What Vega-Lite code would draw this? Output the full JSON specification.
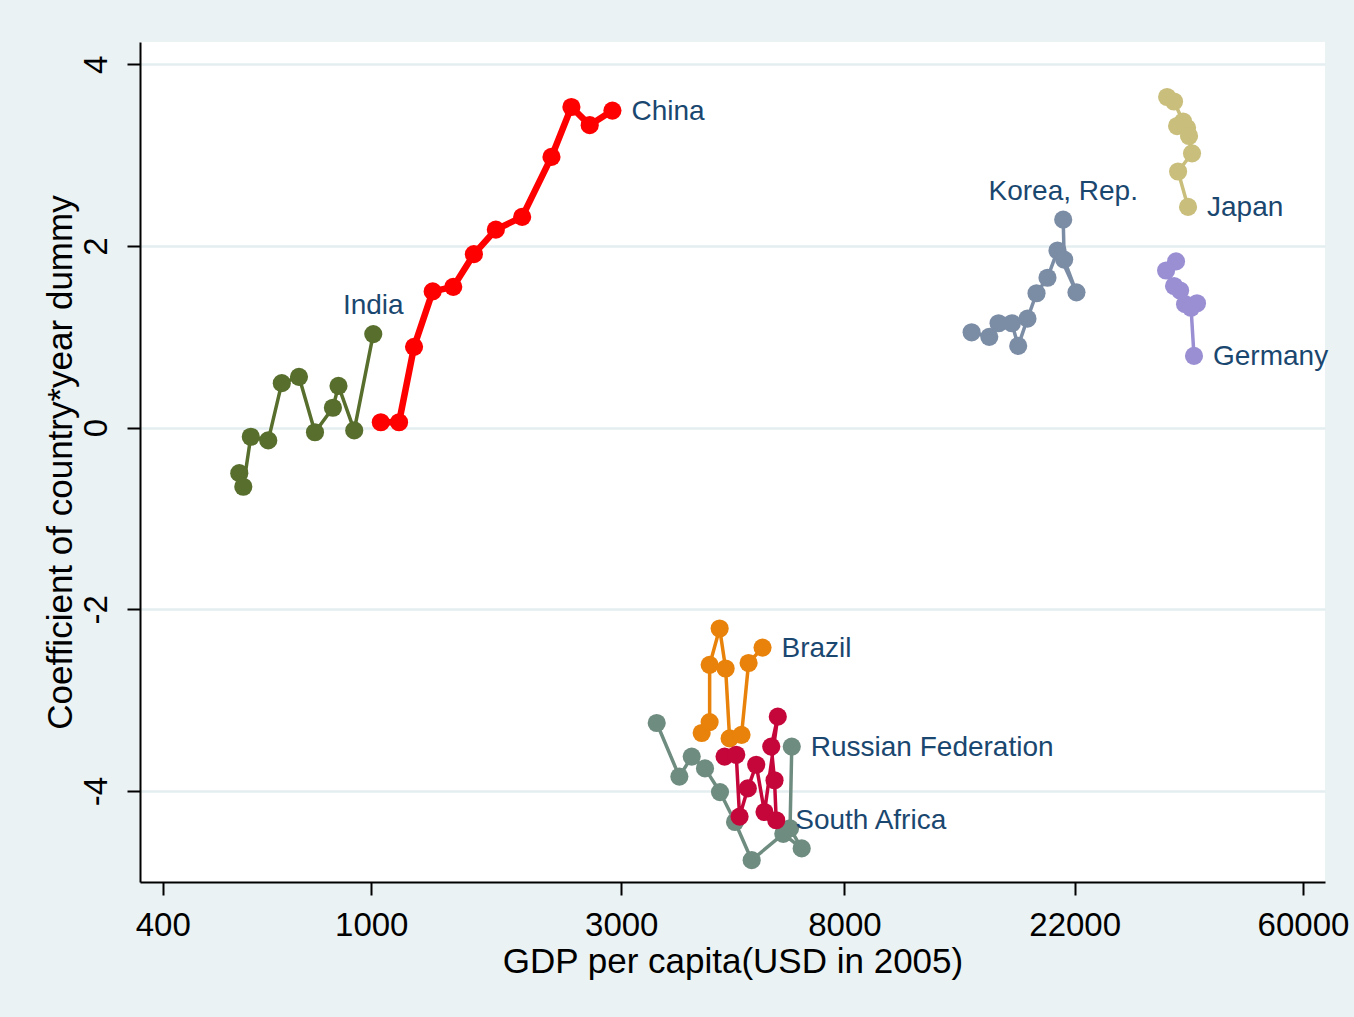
{
  "$schema": "https://vega.github.io/schema/vega-lite/v6.json",
  "width": 1185,
  "height": 840,
  "autosize": {"type": "none"},
  "padding": {"left": 140, "top": 42, "right": 29, "bottom": 135},
  "background": "#eaf2f3",
  "config": {
    "view": {"fill": "white", "stroke": null},
    "font": "Liberation Sans",
    "axis": {
      "domainColor": "black",
      "domainWidth": 2,
      "tickColor": "black",
      "tickWidth": 2,
      "tickSize": 13,
      "labelColor": "black",
      "titleColor": "black",
      "labelFont": "Liberation Sans",
      "titleFont": "Liberation Sans",
      "labelFontSize": 33,
      "titleFontSize": 35,
      "titleFontWeight": "normal"
    }
  },
  "datasets": {
    "series": [
      {"country": "India", "t": 1, "gdp": 560, "coef": -0.50},
      {"country": "India", "t": 2, "gdp": 570, "coef": -0.65},
      {"country": "India", "t": 3, "gdp": 589, "coef": -0.10},
      {"country": "India", "t": 4, "gdp": 636, "coef": -0.14},
      {"country": "India", "t": 5, "gdp": 675, "coef": 0.49},
      {"country": "India", "t": 6, "gdp": 728, "coef": 0.56},
      {"country": "India", "t": 7, "gdp": 781, "coef": -0.05},
      {"country": "India", "t": 8, "gdp": 845, "coef": 0.22},
      {"country": "India", "t": 9, "gdp": 866, "coef": 0.46},
      {"country": "India", "t": 10, "gdp": 928, "coef": -0.03},
      {"country": "India", "t": 11, "gdp": 1009, "coef": 1.03},
      {"country": "China", "t": 1, "gdp": 1043, "coef": 0.06},
      {"country": "China", "t": 2, "gdp": 1130, "coef": 0.06},
      {"country": "China", "t": 3, "gdp": 1207, "coef": 0.89},
      {"country": "China", "t": 4, "gdp": 1310, "coef": 1.50},
      {"country": "China", "t": 5, "gdp": 1434, "coef": 1.55},
      {"country": "China", "t": 6, "gdp": 1570, "coef": 1.91},
      {"country": "China", "t": 7, "gdp": 1729, "coef": 2.18},
      {"country": "China", "t": 8, "gdp": 1941, "coef": 2.32},
      {"country": "China", "t": 9, "gdp": 2208, "coef": 2.98},
      {"country": "China", "t": 10, "gdp": 2410, "coef": 3.53},
      {"country": "China", "t": 11, "gdp": 2612, "coef": 3.33},
      {"country": "China", "t": 12, "gdp": 2886, "coef": 3.49},
      {"country": "Korea, Rep.", "t": 1, "gdp": 13989, "coef": 1.05},
      {"country": "Korea, Rep.", "t": 2, "gdp": 15118, "coef": 1.00},
      {"country": "Korea, Rep.", "t": 3, "gdp": 15747, "coef": 1.15},
      {"country": "Korea, Rep.", "t": 4, "gdp": 16697, "coef": 1.15},
      {"country": "Korea, Rep.", "t": 5, "gdp": 17167, "coef": 0.90},
      {"country": "Korea, Rep.", "t": 6, "gdp": 17882, "coef": 1.20},
      {"country": "Korea, Rep.", "t": 7, "gdp": 18607, "coef": 1.48},
      {"country": "Korea, Rep.", "t": 8, "gdp": 19525, "coef": 1.65},
      {"country": "Korea, Rep.", "t": 9, "gdp": 20403, "coef": 1.95},
      {"country": "Korea, Rep.", "t": 10, "gdp": 22176, "coef": 1.49},
      {"country": "Korea, Rep.", "t": 11, "gdp": 21010, "coef": 1.85},
      {"country": "Korea, Rep.", "t": 12, "gdp": 20920, "coef": 2.29},
      {"country": "Japan", "t": 1, "gdp": 33030, "coef": 3.64},
      {"country": "Japan", "t": 2, "gdp": 34050, "coef": 3.59},
      {"country": "Japan", "t": 3, "gdp": 35430, "coef": 3.37},
      {"country": "Japan", "t": 4, "gdp": 34510, "coef": 3.32},
      {"country": "Japan", "t": 5, "gdp": 36050, "coef": 3.30},
      {"country": "Japan", "t": 6, "gdp": 36370, "coef": 3.21},
      {"country": "Japan", "t": 7, "gdp": 36850, "coef": 3.02},
      {"country": "Japan", "t": 8, "gdp": 34660, "coef": 2.82},
      {"country": "Japan", "t": 9, "gdp": 36210, "coef": 2.43},
      {"country": "Germany", "t": 1, "gdp": 34350, "coef": 1.83},
      {"country": "Germany", "t": 2, "gdp": 32880, "coef": 1.73},
      {"country": "Germany", "t": 3, "gdp": 34050, "coef": 1.56},
      {"country": "Germany", "t": 4, "gdp": 34970, "coef": 1.51},
      {"country": "Germany", "t": 5, "gdp": 35740, "coef": 1.36},
      {"country": "Germany", "t": 6, "gdp": 37660, "coef": 1.37},
      {"country": "Germany", "t": 7, "gdp": 36690, "coef": 1.32},
      {"country": "Germany", "t": 8, "gdp": 37170, "coef": 0.79},
      {"country": "Russian Federation", "t": 1, "gdp": 3506, "coef": -3.25},
      {"country": "Russian Federation", "t": 2, "gdp": 3873, "coef": -3.84},
      {"country": "Russian Federation", "t": 3, "gdp": 4089, "coef": -3.62},
      {"country": "Russian Federation", "t": 4, "gdp": 4335, "coef": -3.75},
      {"country": "Russian Federation", "t": 5, "gdp": 4630, "coef": -4.01},
      {"country": "Russian Federation", "t": 6, "gdp": 4946, "coef": -4.34},
      {"country": "Russian Federation", "t": 7, "gdp": 5322, "coef": -4.76},
      {"country": "Russian Federation", "t": 8, "gdp": 6114, "coef": -4.47},
      {"country": "Russian Federation", "t": 9, "gdp": 6630, "coef": -4.63},
      {"country": "Russian Federation", "t": 10, "gdp": 6299, "coef": -4.41},
      {"country": "Russian Federation", "t": 11, "gdp": 6347, "coef": -3.51},
      {"country": "Brazil", "t": 1, "gdp": 4272, "coef": -3.36},
      {"country": "Brazil", "t": 2, "gdp": 4424, "coef": -3.24},
      {"country": "Brazil", "t": 3, "gdp": 4424, "coef": -2.61},
      {"country": "Brazil", "t": 4, "gdp": 4623, "coef": -2.21},
      {"country": "Brazil", "t": 5, "gdp": 4746, "coef": -2.65},
      {"country": "Brazil", "t": 6, "gdp": 4830, "coef": -3.42},
      {"country": "Brazil", "t": 7, "gdp": 5090, "coef": -3.38},
      {"country": "Brazil", "t": 8, "gdp": 5250, "coef": -2.59},
      {"country": "Brazil", "t": 9, "gdp": 5582, "coef": -2.42},
      {"country": "South Africa", "t": 1, "gdp": 4724, "coef": -3.62},
      {"country": "South Africa", "t": 2, "gdp": 4973, "coef": -3.60},
      {"country": "South Africa", "t": 3, "gdp": 5046, "coef": -4.28},
      {"country": "South Africa", "t": 4, "gdp": 5232, "coef": -3.97},
      {"country": "South Africa", "t": 5, "gdp": 5429, "coef": -3.71},
      {"country": "South Africa", "t": 6, "gdp": 5630, "coef": -4.23},
      {"country": "South Africa", "t": 7, "gdp": 5969, "coef": -3.18},
      {"country": "South Africa", "t": 8, "gdp": 5800, "coef": -3.51},
      {"country": "South Africa", "t": 9, "gdp": 5884, "coef": -3.88},
      {"country": "South Africa", "t": 10, "gdp": 5928, "coef": -4.32}
    ],
    "labels": [
      {"label": "China", "pos": "right", "gdp": 2886, "coef": 3.49},
      {"label": "Japan", "pos": "right", "gdp": 36210, "coef": 2.43},
      {"label": "Germany", "pos": "right", "gdp": 37170, "coef": 0.79},
      {"label": "Brazil", "pos": "right", "gdp": 5582, "coef": -2.42},
      {"label": "Russian Federation", "pos": "right", "gdp": 6347, "coef": -3.51},
      {"label": "South Africa", "pos": "right", "gdp": 5928, "coef": -4.32},
      {"label": "India", "pos": "above", "gdp": 1009, "coef": 1.03},
      {"label": "Korea, Rep.", "pos": "above", "gdp": 20920, "coef": 2.29}
    ]
  },
  "layer": [
    {
      "data": {"name": "series"},
      "transform": [{"filter": "datum.country != 'China'"}],
      "mark": {"type": "line", "strokeWidth": 3.5, "strokeCap": "round", "strokeJoin": "round"},
      "encoding": {
        "x": {
          "field": "gdp", "type": "quantitative",
          "scale": {"type": "log", "domain": [362, 66100], "nice": false},
          "axis": {
            "values": [400, 1000, 3000, 8000, 22000, 60000],
            "format": "d",
            "grid": false,
            "labelPadding": 14,
            "labelFlush": false,
            "labelOverlap": false,
            "title": "GDP per capita(USD in 2005)",
            "titlePadding": 2
          }
        },
        "y": {
          "field": "coef", "type": "quantitative",
          "scale": {"domain": [-5.0, 4.245], "nice": false, "zero": false},
          "axis": {
            "values": [-4, -2, 0, 2, 4],
            "labelExpr": "toString(datum.value)",
            "grid": true,
            "gridColor": "#e4eef1",
            "gridWidth": 2.5,
            "labelAngle": -90,
            "labelPadding": 14,
            "title": "Coefficient of country*year dummy",
            "titlePadding": 2
          }
        },
        "color": {
          "field": "country", "type": "nominal", "legend": null,
          "scale": {
            "domain": ["India", "China", "Korea, Rep.", "Japan", "Germany", "Russian Federation", "Brazil", "South Africa"],
            "range": ["#576e2d", "#ff0000", "#7b8ca5", "#c9be7b", "#9a8fd3", "#6f8c80", "#e8820a", "#c5063a"]
          }
        },
        "order": {"field": "t", "type": "quantitative"}
      }
    },
    {
      "data": {"name": "series"},
      "transform": [{"filter": "datum.country == 'China'"}],
      "mark": {"type": "line", "strokeWidth": 6.5, "strokeCap": "round", "strokeJoin": "round"},
      "encoding": {
        "x": {"field": "gdp", "type": "quantitative", "scale": {"type": "log", "domain": [362, 66100], "nice": false}},
        "y": {"field": "coef", "type": "quantitative", "scale": {"domain": [-5.0, 4.245], "nice": false, "zero": false}},
        "color": {"field": "country", "type": "nominal", "legend": null},
        "order": {"field": "t", "type": "quantitative"}
      }
    },
    {
      "data": {"name": "series"},
      "mark": {"type": "circle", "opacity": 1, "size": 330},
      "encoding": {
        "x": {"field": "gdp", "type": "quantitative", "scale": {"type": "log", "domain": [362, 66100], "nice": false}},
        "y": {"field": "coef", "type": "quantitative", "scale": {"domain": [-5.0, 4.245], "nice": false, "zero": false}},
        "color": {"field": "country", "type": "nominal", "legend": null}
      }
    },
    {
      "data": {"name": "labels"},
      "transform": [{"filter": "datum.pos == 'right'"}],
      "mark": {"type": "text", "align": "left", "baseline": "middle", "dx": 19, "dy": 1, "fontSize": 28, "color": "#1a476f", "font": "Liberation Sans"},
      "encoding": {
        "x": {"field": "gdp", "type": "quantitative", "scale": {"type": "log", "domain": [362, 66100], "nice": false}},
        "y": {"field": "coef", "type": "quantitative", "scale": {"domain": [-5.0, 4.245], "nice": false, "zero": false}},
        "text": {"field": "label", "type": "nominal"}
      }
    },
    {
      "data": {"name": "labels"},
      "transform": [{"filter": "datum.pos == 'above'"}],
      "mark": {"type": "text", "align": "center", "baseline": "middle", "dy": -28, "fontSize": 28, "color": "#1a476f", "font": "Liberation Sans"},
      "encoding": {
        "x": {"field": "gdp", "type": "quantitative", "scale": {"type": "log", "domain": [362, 66100], "nice": false}},
        "y": {"field": "coef", "type": "quantitative", "scale": {"domain": [-5.0, 4.245], "nice": false, "zero": false}},
        "text": {"field": "label", "type": "nominal"}
      }
    }
  ]
}
